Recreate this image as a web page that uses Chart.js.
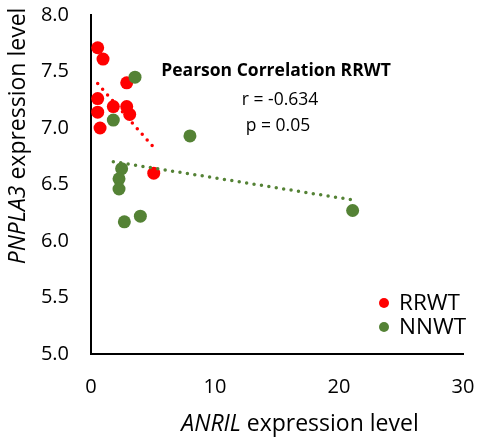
<!DOCTYPE html>
<html>
<head>
<meta charset="utf-8">
<script src="https://cdn.jsdelivr.net/npm/chart.js@4.4.1/dist/chart.umd.min.js"></script>
<style>
  html, body { margin: 0; padding: 0; background: #fff; }
  #wrap { width: 479px; height: 442px; }
</style>
</head>
<body>
<div id="wrap"><canvas id="chart"></canvas></div>
<script>
// values
const rrwtX = [0.54, 0.97, 2.88, 0.54, 0.54, 1.8, 2.88, 3.12, 0.73, 5.06];
const rrwtY = [7.71, 7.61, 7.40, 7.26, 7.14, 7.19, 7.19, 7.12, 7.00, 6.60];
const nnwtX = [3.55, 1.8, 2.47, 2.26, 2.26, 2.69, 3.98, 7.98, 21.1];
const nnwtY = [7.45, 7.07, 6.64, 6.55, 6.46, 6.17, 6.22, 6.93, 6.27];
const xTicks = [0, 10, 20, 30];
const yTicks = [5.0, 5.5, 6.0, 6.5, 7.0, 7.5, 8.0];
const noteLines = ["Pearson Correlation RRWT", "r = -0.634", "p = 0.05"];

const RED = "#ff0000";
const GREEN = "#548235";
const FONT = "'Open Sans', sans-serif";

function toPoints(xs, ys) {
  return xs.map((x, i) => ({ x: x, y: ys[i] }));
}

// least squares trend line over the range of the series
function trend(xs, ys) {
  const n = xs.length;
  const mx = xs.reduce((a, b) => a + b, 0) / n;
  const my = ys.reduce((a, b) => a + b, 0) / n;
  let sxy = 0, sxx = 0;
  for (let i = 0; i < n; i++) {
    sxy += (xs[i] - mx) * (ys[i] - my);
    sxx += (xs[i] - mx) * (xs[i] - mx);
  }
  const b = sxy / sxx;
  const a = my - b * mx;
  const lo = Math.min(...xs), hi = Math.max(...xs);
  return [{ x: lo, y: a + b * lo }, { x: hi, y: a + b * hi }];
}

const trendStyle = {
  type: "line",
  borderWidth: 3.5,
  borderDash: [0, 7.5],
  borderCapStyle: "round",
  pointRadius: 0,
  fill: false,
  showLine: true,
  isTrend: true
};

// draw a label with an italic gene name followed by plain text
function mixedText(ctx, gene, rest, cx, cy, size) {
  ctx.font = "italic " + size + "px " + FONT;
  const w1 = ctx.measureText(gene).width;
  ctx.font = size + "px " + FONT;
  const w2 = ctx.measureText(rest).width;
  const sx = cx - (w1 + w2) / 2;
  ctx.textAlign = "left";
  ctx.font = "italic " + size + "px " + FONT;
  ctx.fillText(gene, sx, cy);
  ctx.font = size + "px " + FONT;
  ctx.fillText(rest, sx + w1, cy);
}

// axis titles, note and legend drawn on the canvas
const extras = {
  id: "extras",
  afterDraw(chart) {
    const ctx = chart.ctx;
    ctx.save();
    ctx.fillStyle = "#000";
    ctx.textBaseline = "middle";

    mixedText(ctx, "ANRIL", " expression level", 300, 424, 23);

    ctx.save();
    ctx.translate(18, 136);
    ctx.rotate(-Math.PI / 2);
    mixedText(ctx, "PNPLA3", " expression level", 0, 0, 23);
    ctx.restore();

    // correlation note
    ctx.textAlign = "center";
    ctx.font = "bold 17.5px " + FONT;
    ctx.fillText(noteLines[0], 276, 71);
    ctx.font = "17.5px " + FONT;
    ctx.fillText(noteLines[1], 280, 100);
    ctx.fillText(noteLines[2], 278, 126);

    // legend
    ctx.textAlign = "left";
    ctx.font = "22.5px " + FONT;
    const items = chart.data.datasets.filter(d => !d.isTrend);
    items.forEach((d, i) => {
      const y = 303 + i * 24;
      ctx.beginPath();
      ctx.arc(384, y, 5, 0, Math.PI * 2);
      ctx.fillStyle = d.backgroundColor;
      ctx.fill();
      ctx.fillStyle = "#000";
      ctx.fillText(d.label, 399, y + 1);
    });
    ctx.restore();
  }
};

new Chart(document.getElementById("chart"), {
  type: "scatter",
  data: {
    datasets: [
      Object.assign({ data: trend(rrwtX, rrwtY), borderColor: RED, order: 0 }, trendStyle),
      Object.assign({ data: trend(nnwtX, nnwtY), borderColor: GREEN, order: 0 }, trendStyle),
      {
        label: "RRWT",
        data: toPoints(rrwtX, rrwtY),
        backgroundColor: RED,
        borderColor: RED,
        pointRadius: 6.5,
        borderWidth: 0,
        order: 2
      },
      {
        label: "NNWT",
        data: toPoints(nnwtX, nnwtY),
        backgroundColor: GREEN,
        borderColor: GREEN,
        pointRadius: 6.5,
        borderWidth: 0,
        order: 1
      }
    ]
  },
  options: {
    responsive: true,
    maintainAspectRatio: false,
    animation: false,
    layout: { padding: { left: 0, right: 16, top: 15, bottom: 0 } },
    plugins: {
      legend: { display: false },
      tooltip: { enabled: false }
    },
    scales: {
      x: {
        type: "linear",
        min: 0,
        max: 30,
        afterBuildTicks: s => { s.ticks = xTicks.map(v => ({ value: v })); },
        afterFit: s => { s.height = 88; s.paddingLeft = 0; s.paddingRight = 0; },
        grid: { display: false, drawTicks: false },
        border: { display: true, color: "#000", width: 2 },
        ticks: { color: "#000", font: { family: FONT, size: 20 }, padding: 21, maxRotation: 0 }
      },
      y: {
        type: "linear",
        min: 5,
        max: 8,
        afterBuildTicks: s => { s.ticks = yTicks.map(v => ({ value: v })); },
        afterFit: s => { s.width = 91; s.paddingTop = 0; s.paddingBottom = 0; },
        grid: { display: false, drawTicks: false },
        border: { display: true, color: "#000", width: 2 },
        ticks: {
          color: "#000",
          font: { family: FONT, size: 20 },
          padding: 22,
          callback: v => v.toFixed(1)
        }
      }
    }
  },
  plugins: [extras]
});
</script>
</body>
</html>
